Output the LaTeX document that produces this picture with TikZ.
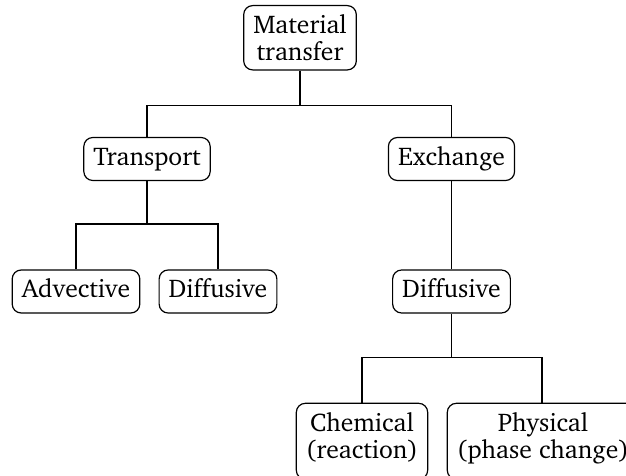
\documentclass[tikz,border=0pt]{standalone}
\usepackage[T1]{fontenc}
\usepackage{charter}
\newcommand{\deepstrut}{\rule[-6pt]{0pt}{6pt}}
\tikzset{
  box/.style={draw, rounded corners=4.5pt, line width=0.6pt, inner xsep=4.8pt, inner ysep=4.5pt, align=center, font=\fontsize{12.8}{13.5}\selectfont},
  onel/.style={text height=9.4pt, text depth=3.1pt},
  conn/.style={line width=0.6pt}
}
\begin{document}
\begin{tikzpicture}[x=0.5pt,y=-0.5pt]
\useasboundingbox (0,0) rectangle (626,476);
\clip (0,0) rectangle (626,476);
\node[box, anchor=north] (M) at (300,5) {Material\\transfer};
\node[box, onel] (T) at (147,159) {Transport};
\node[box, onel] (E) at (451.5,159) {Exchange};
\node[box, onel] (A) at (76,291.5) {Advective};
\node[box, onel] (D1) at (218,291.5) {Diffusive};
\node[box, onel] (D2) at (451.5,291.5) {Diffusive};
\node[box, anchor=north] (C) at (362,402.7) {Chemical\\(reaction)\deepstrut};
\node[box, anchor=north west] (P) at (446.7,402.7) {Physical\\(phase change)\deepstrut};
\coordinate (b1) at (300,105.7);
\coordinate (b2) at (147,224);
\coordinate (b3) at (451.5,357.7);
\coordinate (pc) at (542,0);
\draw[conn] (M.south) -- (b1);
\draw[conn] (T.north) |- (b1) -| (E.north);
\draw[conn] (T.south) -- (b2);
\draw[conn] (A.north) |- (b2) -| (D1.north);
\draw[conn] (E.south) -- (D2.north);
\draw[conn] (D2.south) -- (b3);
\draw[conn] (C.north) |- (b3) -| (P.north -| pc);
\end{tikzpicture}
\end{document}
